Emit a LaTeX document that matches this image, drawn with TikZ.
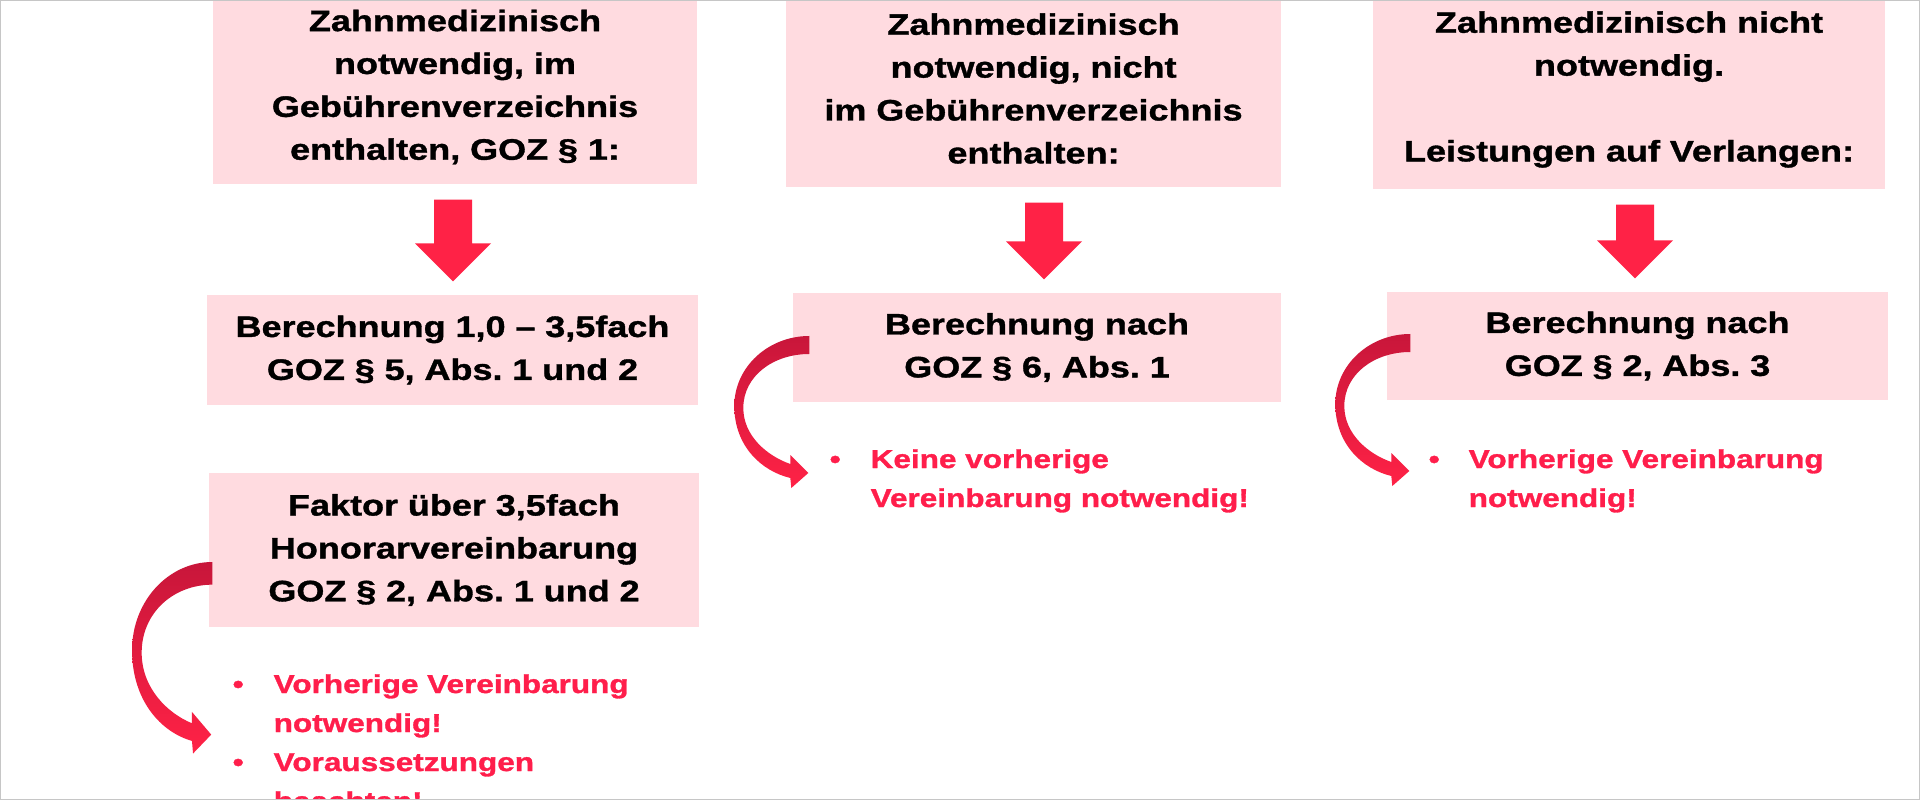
\documentclass[tikz,border=0pt]{standalone}
\usepackage{fontspec}
\setmainfont[FakeStretch=1.22,BoldFeatures={FakeBold=1.2}]{Liberation Sans}
\usepackage{tikz}
\usetikzlibrary{calc}
\definecolor{boxpink}{RGB}{255,219,224}
\definecolor{arrowred}{RGB}{255,34,70}
\definecolor{ribbondark}{RGB}{200,22,58}
\definecolor{textred}{RGB}{255,30,75}

\begin{document}
\begin{tikzpicture}[
		block/.style={fill=boxpink,inner sep=0pt,align=center,font=\fontsize{8.4}{12.2}\selectfont\bfseries},
		redlist/.style={inner sep=0pt,anchor=base west,text=textred,font=\fontsize{7.35}{11.1}\selectfont\bfseries},
		curvearrow/.pic={
			\shade[top color=ribbondark,bottom color=arrowred]
			(0,0) .. controls (-0.41,0) and (-0.75,-0.31) .. (-0.75,-0.70)
			.. controls (-0.75,-1.10) and (-0.48,-1.35) .. (-0.19,-1.42)
			-- (-0.18,-1.52) -- (-0.01,-1.37) -- (-0.19,-1.19) -- (-0.19,-1.28)
			.. controls (-0.42,-1.20) and (-0.66,-1.00) .. (-0.66,-0.72)
			.. controls (-0.66,-0.40) and (-0.36,-0.18) .. (0,-0.18) -- cycle;
		}
		]
		\useasboundingbox[fill=white] (0,0) rectangle (19.2,-8);
		%Draw top row
		\path (4.55,-0.87) node[block,text width=4.84cm,minimum height=1.94cm] (zm1)
		{Zahnmedizinisch\\notwendig, im\\Gebührenverzeichnis\\enthalten, GOZ § 1:}
		+(5.785,-0.015) node[block,text width=4.95cm,minimum height=1.97cm] (zm2)
		{Zahnmedizinisch\\notwendig, nicht\\im Gebührenverzeichnis\\enthalten:}
		+(11.74,-0.025) node[block,text width=5.12cm,minimum height=1.99cm] (zm3)
		{Zahnmedizinisch nicht\\notwendig.\\[12.2pt]Leistungen auf Verlangen:};
		%Draw second row
		\path (4.525,-3.50) node[block,text width=4.91cm,minimum height=1.10cm] (bn1)
		{Berechnung 1,0 – 3,5fach\\GOZ § 5, Abs.\ 1 und 2}
		+(5.845,0.025) node[block,text width=4.88cm,minimum height=1.09cm] (bn2)
		{Berechnung nach\\GOZ § 6, Abs.\ 1}
		+(11.85,0.04) node[block,text width=5.01cm,minimum height=1.08cm] (bn3)
		{Berechnung nach\\GOZ § 2, Abs.\ 3};
		\path (4.54,-5.50) node[block,text width=4.90cm,minimum height=1.54cm] (fk)
		{Faktor über 3,5fach\\Honorarvereinbarung\\GOZ § 2, Abs.\ 1 und 2};
		%Draw down arrows
		\foreach \a/\b/\dx in {zm1/bn1/-0.02,zm2/bn2/0.105,zm3/bn3/0.06}
		\fill[arrowred] let \p1=($(\a.south)+(\dx,-0.15)$), \p2=($(\b.north)+(0,0.13)$) in
		(\x1-0.19cm,\y1) -- (\x1+0.19cm,\y1) -- (\x1+0.19cm,\y2+0.38cm) -- (\x1+0.38cm,\y2+0.38cm)
		-- (\x1,\y2) -- (\x1-0.38cm,\y2+0.38cm) -- (\x1-0.19cm,\y2+0.38cm) -- cycle;
		%Draw notes
		\path (8.29,-4.68) node[redlist] (kv)
		{\begin{tabular}[t]{@{}p{0.41cm}@{}l@{}}\textbullet & Keine vorherige\\ & Vereinbarung notwendig!\end{tabular}};
		\path (14.28,-4.68) node[redlist] (vv3)
		{\begin{tabular}[t]{@{}p{0.40cm}@{}l@{}}\textbullet & Vorherige Vereinbarung\\ & notwendig!\end{tabular}};
		\path (2.32,-6.93) node[redlist] (vv1)
		{\begin{tabular}[t]{@{}p{0.41cm}@{}l@{}}\textbullet & Vorherige Vereinbarung\\ & notwendig!\\
		\textbullet & Voraussetzungen\\ & beachten!\end{tabular}};
		%Draw curved arrows
		\pic at ($(bn2.west)+(0.17,0.115)$) {curvearrow};
		\pic at ($(bn3.west)+(0.24,0.12)$) {curvearrow};
		\pic[xscale=1.07,yscale=1.26] at ($(fk.west)+(0.04,-0.12)$) {curvearrow};
		\draw[gray!45,line width=0.6pt] (0,0) rectangle (19.2,-8);
	\end{tikzpicture}
\end{document}
